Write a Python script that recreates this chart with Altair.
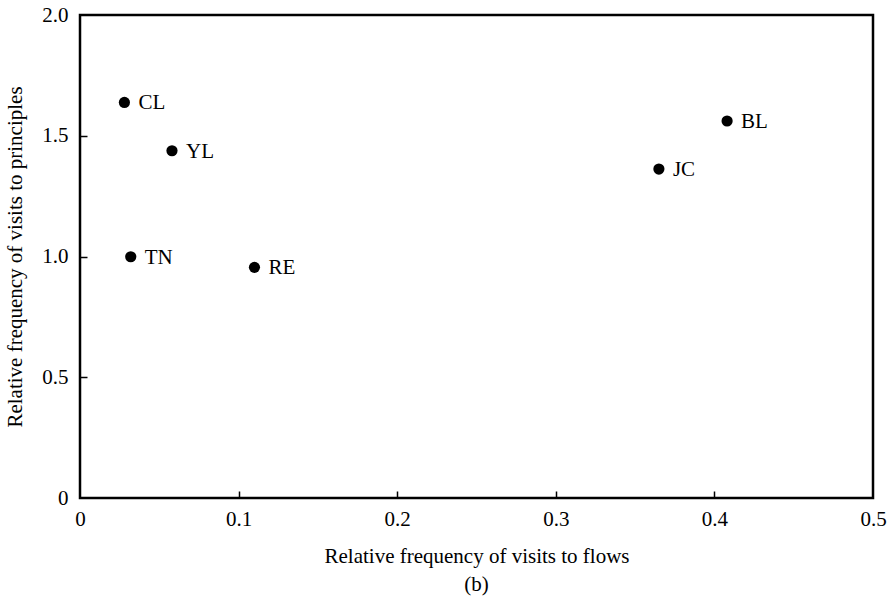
import altair as alt
import pandas as pd

names = ["CL", "YL", "TN", "RE", "JC", "BL"]
flows = [0.028, 0.058, 0.032, 0.110, 0.365, 0.408]
principles = [1.638, 1.438, 0.999, 0.955, 1.362, 1.561]

x_ticks = [0, 0.1, 0.2, 0.3, 0.4, 0.5]
y_ticks = [0, 0.5, 1.0, 1.5, 2.0]

df = pd.DataFrame({"name": names, "flows": flows, "principles": principles})

FONT = "Liberation Serif"
FS = 21
label_expr = "datum.value == 0 ? '0' : format(datum.value, '.1f')"

xscale = alt.Scale(domain=[0, 0.5], nice=False, zero=False)
yscale = alt.Scale(domain=[0, 2.0], nice=False, zero=False)

points = alt.Chart(df).mark_circle(size=125, color="black", opacity=1).encode(
    x=alt.X("flows:Q", scale=xscale,
            axis=alt.Axis(title="Relative frequency of visits to flows", orient="bottom",
                          values=x_ticks, labelExpr=label_expr, ticks=False, domain=False,
                          grid=False, labelPadding=10, titlePadding=16,
                          labelFontSize=FS, titleFontSize=FS, labelFont=FONT, titleFont=FONT,
                          titleFontWeight="normal", labelColor="black", titleColor="black",
                          labelFlush=False)),
    y=alt.Y("principles:Q", scale=yscale,
            axis=alt.Axis(title="Relative frequency of visits to principles", orient="left",
                          values=y_ticks, labelExpr=label_expr, ticks=False, domain=False,
                          grid=False, labelPadding=12, titlePadding=16,
                          labelFontSize=FS, titleFontSize=FS, labelFont=FONT, titleFont=FONT,
                          titleFontWeight="normal", labelColor="black", titleColor="black",
                          labelFlush=False)),
)

labels = alt.Chart(df).mark_text(align="left", baseline="middle", dx=14, dy=1,
                                 font=FONT, fontSize=FS, color="black").encode(
    x=alt.X("flows:Q", scale=xscale,
            axis=alt.Axis(title=None, orient="bottom", values=[0.1, 0.2, 0.3, 0.4],
                          labels=False, domain=False, grid=False, ticks=True,
                          tickSize=7, tickWidth=1.5, tickColor="black", offset=-7)),
    y=alt.Y("principles:Q", scale=yscale,
            axis=alt.Axis(title=None, orient="left", values=[0.5, 1.0, 1.5],
                          labels=False, domain=False, grid=False, ticks=True,
                          tickSize=7, tickWidth=1.5, tickColor="black", offset=-7)),
    text="name:N",
)

chart = alt.layer(points, labels).resolve_axis(x="independent", y="independent").properties(
    width=793, height=483,
    autosize=alt.AutoSizeParams(type="none"),
    padding={"left": 80, "top": 15, "right": 21, "bottom": 106},
    background="white",
    title=alt.TitleParams("(b)", orient="bottom", font=FONT, fontSize=FS,
                          fontWeight="normal", color="black", offset=8),
).configure_view(stroke="black", strokeWidth=2.5)

chart.save("out.html", embed_options={"renderer": "svg", "actions": False})
